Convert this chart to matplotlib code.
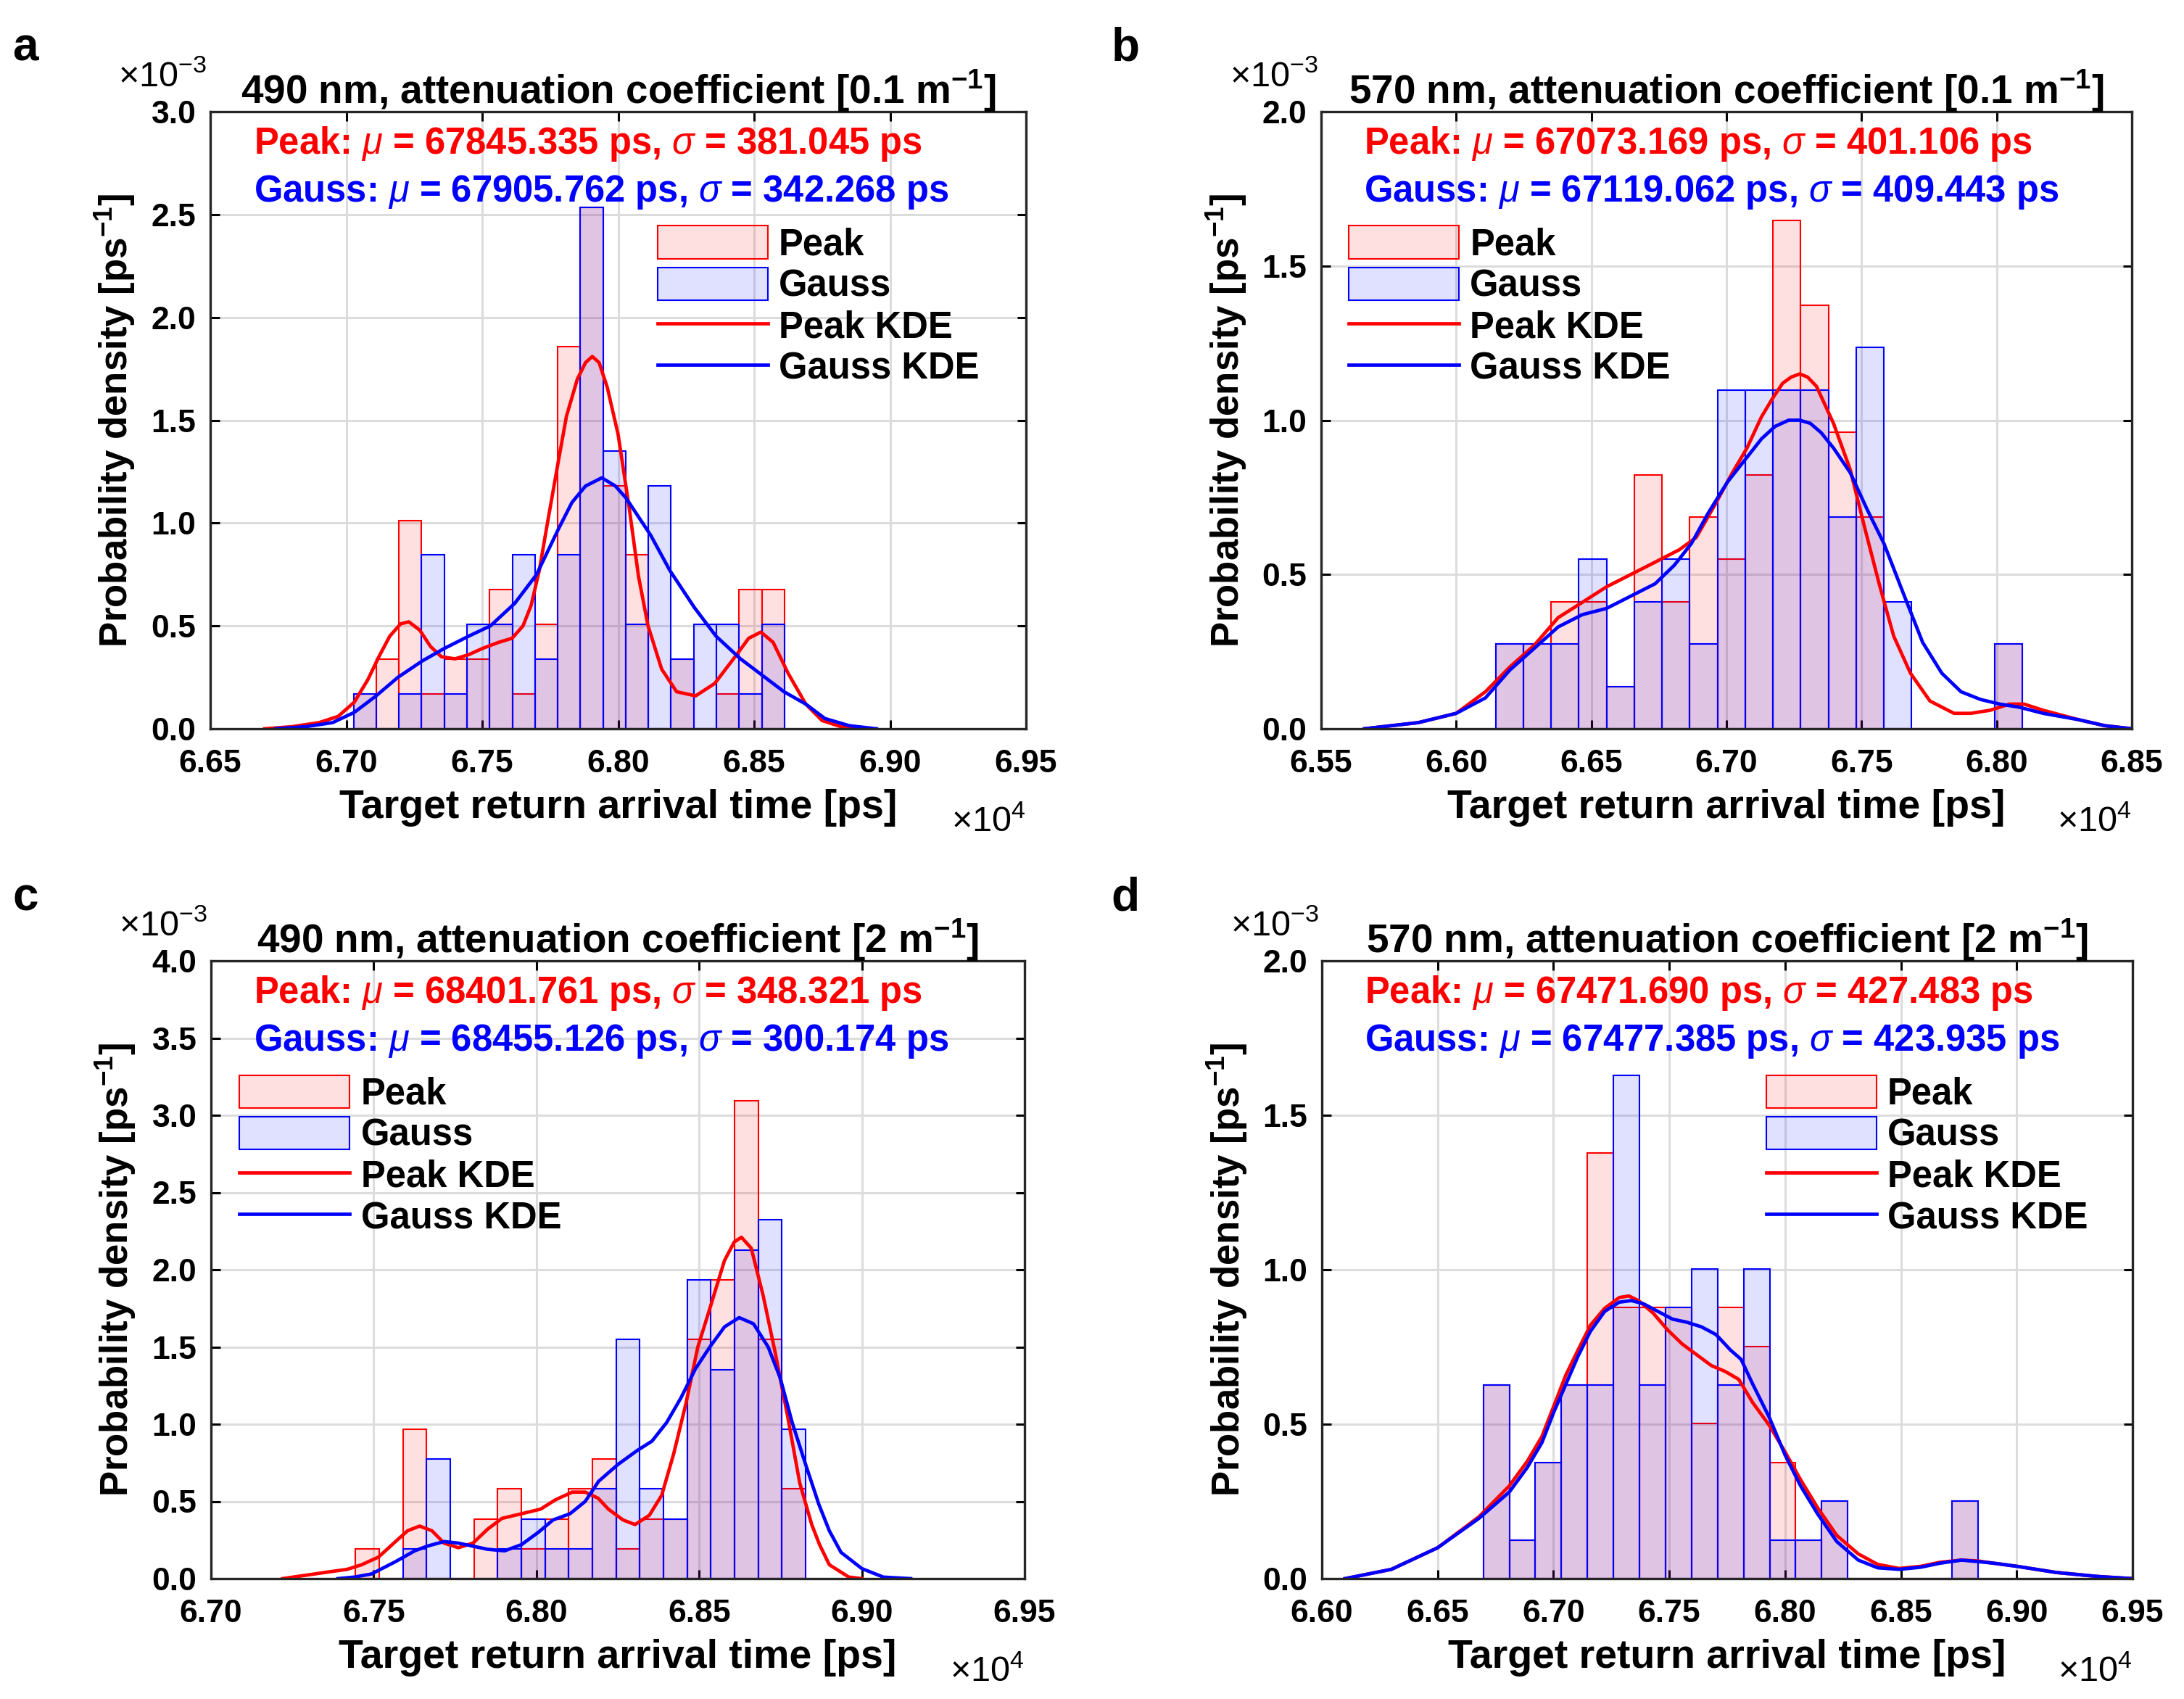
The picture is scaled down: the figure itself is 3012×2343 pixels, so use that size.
import matplotlib
matplotlib.use("Agg")
import matplotlib.pyplot as plt
import numpy as np
from matplotlib.ticker import FuncFormatter, MultipleLocator

plt.rcParams["font.family"] = ["Liberation Sans", "DejaVu Sans"]
plt.rcParams["font.weight"] = "bold"
plt.rcParams["mathtext.fontset"] = "custom"
plt.rcParams["mathtext.it"] = "Liberation Sans:style=italic:weight=normal"
plt.rcParams["mathtext.rm"] = "Liberation Sans"
plt.rcParams["mathtext.bf"] = "Liberation Sans:bold"
plt.rcParams["mathtext.default"] = "regular"

# ---- panel a: 490 nm, 0.1 m^-1 ----
a_bin_start = 67027
a_bin_width = 83.4
a_peak_counts = [1, 2, 6, 1, 2, 2, 4, 1, 3, 11, 15, 7, 5, 0, 2, 0, 1, 4, 4]
a_gauss_counts = [1, 0, 1, 5, 1, 3, 3, 5, 2, 5, 15, 8, 3, 7, 2, 3, 3, 1, 3]
a_peak_kde_x = [66700, 66800, 66900, 66970, 67030, 67080, 67120, 67160, 67200, 67230, 67270,
                67310, 67350, 67400, 67450, 67500, 67560, 67610, 67650, 67680, 67710, 67740,
                67780, 67810, 67850, 67880, 67905, 67930, 67960, 68000, 68040, 68075, 68110,
                68160, 68215, 68285, 68355, 68430, 68480, 68525, 68570, 68625, 68690, 68750,
                68820, 68900]
a_peak_kde_y = [0.0, 0.01, 0.03, 0.06, 0.13, 0.24, 0.35, 0.45, 0.51, 0.52, 0.48,
                0.40, 0.35, 0.34, 0.36, 0.39, 0.42, 0.44, 0.50, 0.60, 0.77, 1.00,
                1.30, 1.52, 1.70, 1.78, 1.81, 1.78, 1.66, 1.43, 1.08, 0.74, 0.50,
                0.29, 0.18, 0.16, 0.22, 0.35, 0.44, 0.47, 0.42, 0.27, 0.12, 0.04,
                0.01, 0.0]
a_gauss_kde_x = [66740, 66850, 66950, 67030, 67110, 67190, 67280, 67360, 67450, 67530, 67620,
                 67700, 67780, 67830, 67880, 67940, 67990, 68030, 68120, 68190, 68280, 68360,
                 68450, 68530, 68610, 68690, 68760, 68850, 68950]
a_gauss_kde_y = [0.0, 0.01, 0.03, 0.08, 0.16, 0.25, 0.33, 0.39, 0.45, 0.50, 0.61,
                 0.75, 0.97, 1.10, 1.18, 1.22, 1.18, 1.12, 0.94, 0.77, 0.59, 0.45,
                 0.34, 0.26, 0.18, 0.12, 0.05, 0.015, 0.0]

# ---- panel b: 570 nm, 0.1 m^-1 ----
b_bin_start = 66146
b_bin_width = 102.6
b_peak_counts = [2, 2, 3, 3, 1, 6, 3, 5, 4, 6, 12, 10, 7, 5, 0, 0, 0, 0, 2]
b_gauss_counts = [2, 2, 2, 4, 1, 3, 4, 2, 8, 8, 8, 8, 5, 9, 3, 0, 0, 0, 2]
b_peak_kde_x = [65660, 65860, 66000, 66108, 66198, 66288, 66377, 66467, 66556, 66646, 66736,
                66825, 66888, 66960, 67022, 67076, 67129, 67170, 67208, 67240, 67271, 67300,
                67333, 67396, 67458, 67512, 67565, 67619, 67681, 67753, 67842, 67904, 67976,
                68047, 68101, 68172, 68300, 68400, 68500]
b_peak_kde_y = [0.0, 0.02, 0.05, 0.12, 0.20, 0.27, 0.36, 0.41, 0.46, 0.50, 0.54,
                0.58, 0.62, 0.73, 0.83, 0.91, 1.01, 1.07, 1.12, 1.14, 1.15, 1.14,
                1.11, 0.99, 0.84, 0.65, 0.47, 0.30, 0.18, 0.09, 0.05, 0.05, 0.06,
                0.08, 0.08, 0.06, 0.03, 0.01, 0.0]
b_gauss_kde_x = [65660, 65860, 66000, 66108, 66198, 66288, 66377, 66467, 66556, 66646, 66736,
                 66807, 66870, 66933, 67004, 67076, 67130, 67180, 67230, 67271, 67310, 67350,
                 67396, 67458, 67521, 67583, 67654, 67726, 67797, 67868, 67940, 68012, 68083,
                 68172, 68300, 68400, 68500]
b_gauss_kde_y = [0.0, 0.02, 0.05, 0.10, 0.19, 0.26, 0.33, 0.37, 0.39, 0.43, 0.47,
                 0.53, 0.60, 0.70, 0.80, 0.88, 0.94, 0.98, 1.00, 1.00, 0.99, 0.96,
                 0.91, 0.83, 0.71, 0.60, 0.44, 0.28, 0.18, 0.12, 0.095, 0.08, 0.07,
                 0.05, 0.03, 0.01, 0.0]

# ---- panel c: 490 nm, 2 m^-1 ----
c_bin_start = 67444
c_bin_width = 72.8
c_peak_counts = [1, 0, 5, 0, 0, 2, 3, 1, 2, 3, 4, 1, 2, 2, 8, 10, 16, 8, 3]
c_gauss_counts = [0, 0, 1, 4, 0, 0, 1, 2, 1, 1, 3, 8, 3, 2, 10, 7, 11, 12, 5]
c_peak_kde_x = [67220, 67350, 67418, 67463, 67515, 67567, 67604, 67641, 67679, 67716, 67760,
                67805, 67850, 67894, 67954, 68013, 68058, 68110, 68150, 68190, 68221, 68266,
                68303, 68347, 68385, 68422, 68459, 68496, 68533, 68578, 68608, 68630, 68660,
                68697, 68734, 68772, 68809, 68846, 68870, 68900, 68960, 69000]
c_peak_kde_y = [0.0, 0.04, 0.06, 0.09, 0.14, 0.24, 0.31, 0.34, 0.31, 0.23, 0.20,
                0.23, 0.32, 0.39, 0.42, 0.45, 0.51, 0.56, 0.56, 0.52, 0.45, 0.38,
                0.35, 0.41, 0.54, 0.81, 1.13, 1.50, 1.75, 2.06, 2.18, 2.21, 2.14,
                1.83, 1.46, 1.05, 0.62, 0.35, 0.22, 0.09, 0.01, 0.0]
c_gauss_kde_x = [67390, 67440, 67493, 67567, 67626, 67664, 67716, 67760, 67805, 67850, 67902,
                 67954, 68006, 68051, 68103, 68150, 68191, 68251, 68310, 68355, 68400, 68444,
                 68489, 68533, 68578, 68623, 68667, 68712, 68749, 68786, 68824, 68868, 68900,
                 68936, 69000, 69066, 69150]
c_gauss_kde_y = [0.0, 0.01, 0.03, 0.11, 0.18, 0.21, 0.24, 0.23, 0.21, 0.19, 0.18,
                 0.22, 0.30, 0.38, 0.42, 0.50, 0.63, 0.74, 0.83, 0.89, 1.01, 1.17,
                 1.36, 1.50, 1.63, 1.69, 1.65, 1.50, 1.30, 1.01, 0.76, 0.48, 0.31,
                 0.17, 0.065, 0.01, 0.0]

# ---- panel d: 570 nm, 2 m^-1 ----
d_bin_start = 66697
d_bin_width = 112.4
d_peak_counts = [5, 1, 3, 5, 11, 7, 7, 7, 4, 7, 6, 3, 1, 2, 0, 0, 0, 0, 2]
d_gauss_counts = [5, 1, 3, 5, 5, 13, 5, 7, 8, 5, 8, 1, 1, 2, 0, 0, 0, 0, 2]
d_peak_kde_x = [66100, 66300, 66500, 66678, 66809, 66887, 66950, 67002, 67054, 67106, 67159,
                67221, 67284, 67326, 67367, 67430, 67493, 67555, 67618, 67681, 67743, 67800,
                67860, 67933, 68000, 68067, 68140, 68223, 68316, 68400, 68493, 68586, 68669,
                68762, 68835, 68900, 69000, 69170, 69350, 69500]
d_peak_kde_y = [0.0, 0.03, 0.10, 0.20, 0.30, 0.38, 0.46, 0.56, 0.66, 0.74, 0.82,
                0.875, 0.91, 0.915, 0.90, 0.86, 0.805, 0.76, 0.725, 0.69, 0.67, 0.645,
                0.57, 0.495, 0.41, 0.32, 0.23, 0.14, 0.08, 0.046, 0.033, 0.04, 0.053,
                0.06, 0.057, 0.05, 0.04, 0.02, 0.007, 0.0]
d_gauss_kde_x = [66100, 66300, 66500, 66678, 66809, 66887, 66950, 67002, 67054, 67106, 67159,
                 67221, 67284, 67336, 67388, 67451, 67514, 67576, 67639, 67702, 67764, 67810,
                 67860, 67933, 68000, 68067, 68140, 68223, 68316, 68400, 68493, 68586, 68669,
                 68762, 68835, 68900, 69000, 69170, 69350, 69500]
d_gauss_kde_y = [0.0, 0.03, 0.10, 0.195, 0.28, 0.36, 0.44, 0.54, 0.63, 0.72, 0.80,
                 0.865, 0.895, 0.90, 0.89, 0.865, 0.84, 0.83, 0.815, 0.79, 0.74, 0.71,
                 0.63, 0.52, 0.40, 0.30, 0.21, 0.12, 0.06, 0.035, 0.03, 0.037, 0.05,
                 0.06, 0.055, 0.05, 0.04, 0.02, 0.007, 0.0]

panel_letters = ["a", "b", "c", "d"]
titles = ["490 nm, attenuation coefficient [0.1 m$^{-1}$]",
          "570 nm, attenuation coefficient [0.1 m$^{-1}$]",
          "490 nm, attenuation coefficient [2 m$^{-1}$]",
          "570 nm, attenuation coefficient [2 m$^{-1}$]"]
peak_stats = [("67845.335", "381.045"), ("67073.169", "401.106"),
              ("68401.761", "348.321"), ("67471.690", "427.483")]
gauss_stats = [("67905.762", "342.268"), ("67119.062", "409.443"),
               ("68455.126", "300.174"), ("67477.385", "423.935")]
x_limits = [(66500, 69500), (65500, 68500), (67000, 69500), (66000, 69500)]
y_limits = [3.0, 2.0, 4.0, 2.0]
legend_x = [0.548, 0.034, 0.035, 0.548]

panels = [
    (a_bin_start, a_bin_width, a_peak_counts, a_gauss_counts,
     a_peak_kde_x, a_peak_kde_y, a_gauss_kde_x, a_gauss_kde_y),
    (b_bin_start, b_bin_width, b_peak_counts, b_gauss_counts,
     b_peak_kde_x, b_peak_kde_y, b_gauss_kde_x, b_gauss_kde_y),
    (c_bin_start, c_bin_width, c_peak_counts, c_gauss_counts,
     c_peak_kde_x, c_peak_kde_y, c_gauss_kde_x, c_gauss_kde_y),
    (d_bin_start, d_bin_width, d_peak_counts, d_gauss_counts,
     d_peak_kde_x, d_peak_kde_y, d_gauss_kde_x, d_gauss_kde_y),
]

W, H = 3012, 2343
fig = plt.figure(figsize=(W / 100, H / 100), dpi=100)

# axes boxes in pixels: left, right, top, bottom
boxes = [(290, 1415, 154, 1005), (1822, 2940, 154, 1005),
         (291, 1413, 1325, 2177), (1823, 2941, 1325, 2177)]

FS = 36.5
red = (1, 0, 0)
blue = (0, 0, 1)

for i, (box, data) in enumerate(zip(boxes, panels)):
    l, r, t, b = box
    ax = fig.add_axes([l / W, 1 - b / H, (r - l) / W, (b - t) / H])
    start, width, pc, gc, pkx, pky, gkx, gky = data
    edges = start + width * np.arange(len(pc))
    # pdf normalisation, in units of 1e-3 ps^-1
    p_dens = np.array(pc) / (sum(pc) * width) * 1e3
    g_dens = np.array(gc) / (sum(gc) * width) * 1e3

    hp = ax.bar(edges, p_dens, width=width, align="edge", facecolor=(1, 0, 0, 0.12),
                edgecolor=red, linewidth=1.5, label="Peak")
    hg = ax.bar(edges, g_dens, width=width, align="edge", facecolor=(0, 0, 1, 0.12),
                edgecolor=blue, linewidth=1.5, label="Gauss")
    lp, = ax.plot(pkx, pky, color=red, linewidth=3.4, label="Peak KDE")
    lg, = ax.plot(gkx, gky, color=blue, linewidth=3.4, label="Gauss KDE")

    ax.set_xlim(*x_limits[i])
    ax.set_ylim(0, y_limits[i])
    ax.xaxis.set_major_locator(MultipleLocator(500))
    ax.yaxis.set_major_locator(MultipleLocator(0.5))
    ax.xaxis.set_major_formatter(FuncFormatter(lambda v, p: f"{v / 1e4:.2f}"))
    ax.yaxis.set_major_formatter(FuncFormatter(lambda v, p: f"{v:.1f}"))
    ax.set_axisbelow(True)
    ax.grid(True, color="#dcdcdc", linewidth=2.2)
    ax.tick_params(direction="in", length=9, width=2.2, labelsize=32,
                   top=True, right=True)
    ax.tick_params(axis="x", pad=20)
    ax.tick_params(axis="y", pad=14)
    for s in ax.spines.values():
        s.set_linewidth(2.4)
        s.set_color("#262626")

    ax.set_title(titles[i], fontsize=39.5, fontweight="bold", pad=8)
    ax.text(0.5, -0.128, "Target return arrival time [ps]", transform=ax.transAxes,
            ha="center", va="center", fontsize=40, fontweight="bold")
    ax.text(-0.117, 0.5, "Probability density [ps$^{-1}$]", transform=ax.transAxes,
            ha="center", va="center", rotation=90, fontsize=38, fontweight="bold")
    ax.text(-0.113, 1.056, r"$\times$10$^{-3}$", transform=ax.transAxes,
            ha="left", va="center", fontsize=35, fontweight="normal")
    ax.text(1.0, -0.152, r"$\times$10$^{4}$", transform=ax.transAxes,
            ha="right", va="center", fontsize=35, fontweight="normal")

    mu_p, sd_p = peak_stats[i]
    mu_g, sd_g = gauss_stats[i]
    ax.text(0.053, 0.948, rf"Peak: $\mathit{{\mu}}$ = {mu_p} ps, $\mathit{{\sigma}}$ = {sd_p} ps",
            transform=ax.transAxes, color=red, fontsize=FS, fontweight="bold", va="center")
    ax.text(0.053, 0.870, rf"Gauss: $\mathit{{\mu}}$ = {mu_g} ps, $\mathit{{\sigma}}$ = {sd_g} ps",
            transform=ax.transAxes, color=blue, fontsize=FS, fontweight="bold", va="center")

    ax.legend(handles=[hp, hg, lp, lg], loc="upper left",
              bbox_to_anchor=(legend_x[i], 0.815), frameon=False,
              fontsize=FS, borderpad=0, borderaxespad=0, handlelength=3.0,
              handleheight=1.0, handletextpad=0.3, labelspacing=0.12)

    lx, ly = (35, 67) if i % 2 == 0 else (1552, 67)
    if i >= 2:
        ly = 1239
    fig.text(lx / W, 1 - ly / H, panel_letters[i], fontsize=46, fontweight="bold",
             ha="center", va="center")

fig.savefig("out.png", dpi=100)
